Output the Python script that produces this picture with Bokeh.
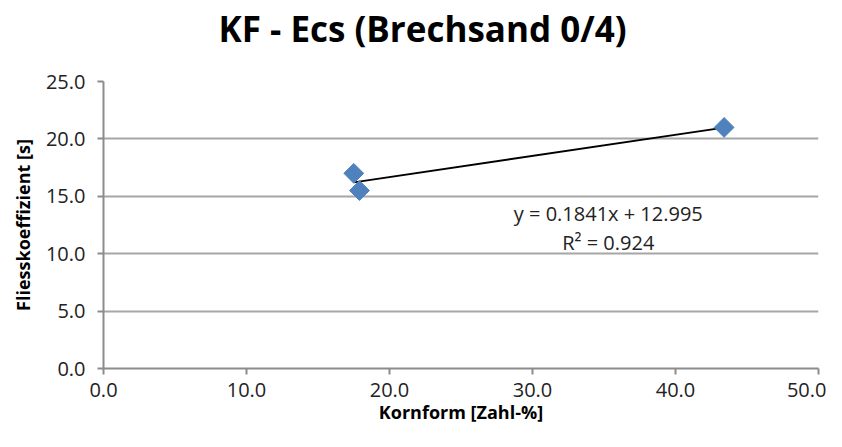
import numpy as np
from bokeh.plotting import figure
from bokeh.models import Range1d, FixedTicker, Label, NumeralTickFormatter, Title
from bokeh.embed import file_html
from bokeh.resources import INLINE

# data
kornform = [17.5, 17.9, 43.4]
fliess = [17.0, 15.5, 21.0]
slope = 0.1841
intercept = 12.995
r2 = 0.924
x_ticks = [0, 10, 20, 30, 40, 50]
y_ticks = [0, 5, 10, 15, 20, 25]
title_text = "KF - Ecs (Brechsand 0/4)"
x_label = "Kornform [Zahl-%]"
y_label = "Fliesskoeffizient [s]"

FONT = "Open Sans"
W, H = 826, 431
LEFT, RIGHT, TOP, BOTTOM = 103, 8, 81, 63

p = figure(width=W, height=H, output_backend="svg", toolbar_location=None,
           x_range=Range1d(0, 50), y_range=Range1d(0, 25),
           min_border_left=LEFT, min_border_right=RIGHT, min_border_top=TOP,
           min_border_bottom=BOTTOM)
p.outline_line_color = None
p.background_fill_color = "white"
p.border_fill_color = "white"

# spacer panel between frame and title, then the title itself (outermost)
spacer = Title(text=" ", text_font_size="1px", standoff=22)
p.add_layout(spacer, "above")
main_title = Title(text=title_text, align="left", vertical_align="top",
                   text_font=FONT, text_font_size="35px", text_font_style="bold",
                   text_color="#000000", offset=115, standoff=6)
p.add_layout(main_title, "above")

for ax in (p.xaxis[0], p.yaxis[0]):
    ax.axis_line_color = "#8c8c8c"
    ax.axis_line_width = 2
    ax.major_tick_line_color = "#8c8c8c"
    ax.major_tick_line_width = 2
    ax.major_tick_out = 6
    ax.major_tick_in = 0
    ax.minor_tick_line_color = None
    ax.major_label_text_font = FONT
    ax.major_label_text_font_size = "20px"
    ax.major_label_text_color = "#222222"
    ax.axis_label_text_font = FONT
    ax.axis_label_text_font_size = "18px"
    ax.axis_label_text_font_style = "bold"
    ax.axis_label_text_color = "#000000"
    ax.formatter = NumeralTickFormatter(format="0.0")

p.xaxis.ticker = FixedTicker(ticks=x_ticks)
p.yaxis.ticker = FixedTicker(ticks=y_ticks)
p.xaxis.axis_label = x_label
p.yaxis.axis_label = y_label
p.xaxis.major_label_standoff = 8
p.yaxis.major_label_standoff = 12
p.xaxis.axis_label_standoff = 0
p.yaxis.axis_label_standoff = 8

p.xgrid.grid_line_color = None
p.ygrid.grid_line_color = "#a6a6a6"
p.ygrid.grid_line_width = 2

# trendline
tx = [min(kornform), max(kornform)]
ty = [slope * v + intercept for v in tx]
p.line(tx, ty, line_color="black", line_width=1.8)

p.scatter(kornform, fliess, marker="square", angle=np.pi / 4, size=14,
          fill_color="#4F81BD", line_color="#4F81BD")

eq = Label(x=35.3, y=13.5, text=f"y = {slope}x + {intercept}", text_align="center",
           text_baseline="middle", text_font=FONT, text_font_size="20px", text_color="#222222")
r2l = Label(x=35.3, y=11.0, text=f"R\u00b2 = {r2}", text_align="center",
            text_baseline="middle", text_font=FONT, text_font_size="20px", text_color="#222222")
p.add_layout(eq)
p.add_layout(r2l)

open("out.html", "w").write(file_html(p, INLINE))
